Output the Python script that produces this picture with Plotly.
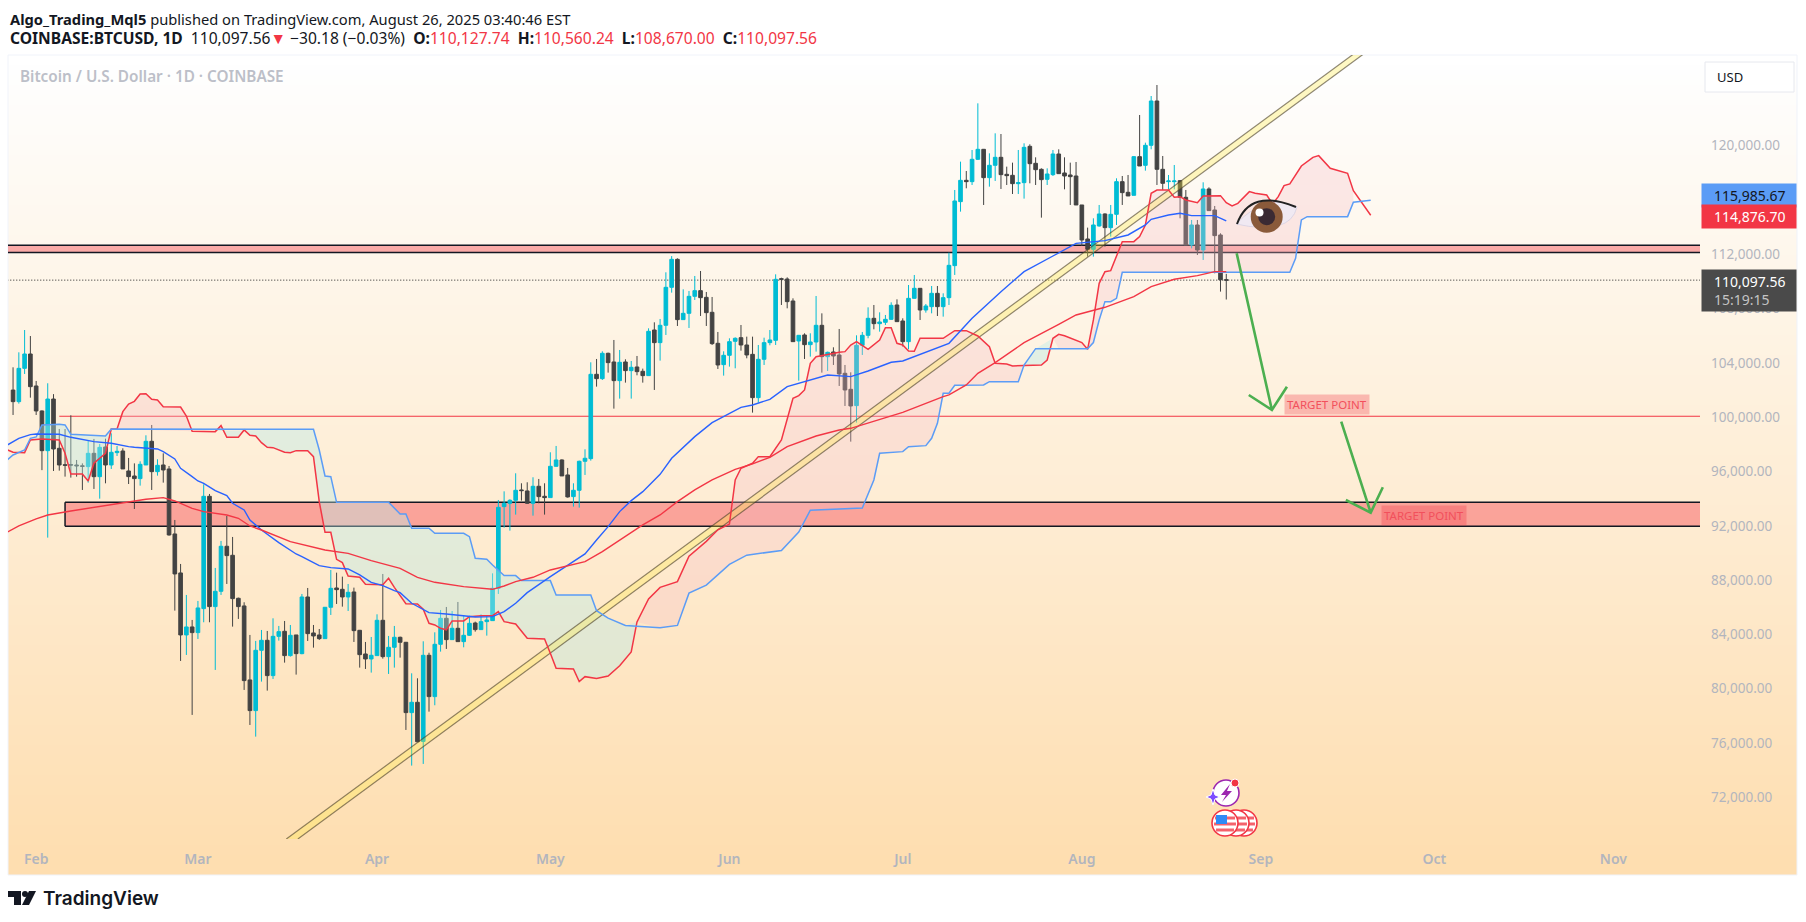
import math

import pandas as pd
import plotly.graph_objects as go

# Daily candles, Jan 28 -> Aug 26 2025
opens = [102000, 101146, 103600, 104657,
         102300, 100460, 97536, 101340, 97709, 96500, 96500, 96480, 96420, 96360, 97340, 95620, 97808, 96482,
         97390, 97510, 96040, 95670, 95476, 96482, 98225, 95990, 96482, 96187, 91400, 88528, 83961, 84550,
         84133, 85900, 94174, 86048, 87177, 90492, 89829, 86661, 86097, 80647, 78388, 82830, 83567, 80965, 83860,
         84230, 82438, 83960, 82585, 86758, 84107, 83960, 83690, 86000, 87421, 87323, 86758, 87127, 84303, 82560, 82192,
         82438, 85040, 82364, 83051, 83788, 83420, 78240, 79000, 76118, 82462, 79418, 83272, 85187, 83616, 84450,
         83469, 83935, 84843, 84353, 84942, 85015, 87397, 93414, 93660, 93880, 94642, 94568, 93660, 94912, 94176,
         94077, 96384, 96851, 95747, 94151, 94617, 96753, 96949, 103160, 102841, 104707, 104069, 102694, 104069, 103430,
         103700, 103382, 103062, 106425, 105493, 106770, 109568, 111630, 107187, 107653, 108905, 109323, 108830, 107727,
         105444, 103873,
         104560, 105590, 105860, 105320, 104630, 101441, 104265, 105493, 105664, 110206, 110181, 108561, 105615, 106057,
         105345, 105541, 106769, 104461, 104805, 104584, 103234, 102055, 100852, 105296, 106032, 107284, 106892, 106990,
         107210, 108266,
         107088, 105566, 108757, 109494, 107898, 108144, 109126, 108144, 108806, 111165, 115879, 117450, 117352, 118997,
         119733, 117646, 118555, 119144, 117892, 117818, 117204, 117278, 119954, 118702, 118260, 117523, 117867, 119389,
         117990, 117843, 117769,
         115633, 113129, 112368, 114087, 114970, 113964, 114945, 117352, 116566, 116345, 119193, 118554, 120028, 123293,
         118260, 117352, 117352, 117425, 116198, 112687, 114160, 112319, 116812, 115265, 113424, 110127.74]
highs = [103675, 104780, 106424, 105980,
         102670, 100500, 102500, 101700, 99133, 99133, 100140, 96850, 96600, 98250, 98400, 98030, 98420, 98814,
         97880, 97710, 97000, 96600, 96752, 98667, 99428, 96900, 97340, 96408, 92431, 89190, 86908, 85066,
         86466, 95058, 94346, 88896, 90885, 92726, 91179, 86711, 86367, 83961, 83520, 84328, 84254, 85187, 84623,
         84990, 84696, 83960, 86980, 87421, 84696, 84400, 86000, 88747, 88550, 88256, 87716, 87446, 84328, 83444, 83812,
         85482, 88452, 83886, 84623, 83837, 83444, 81136, 80768, 83493, 82650, 84156, 85800, 86022, 85727,
         86390, 85408, 85383, 84941, 85482, 85360, 88500, 93903, 94540, 93955, 95869, 95132, 95206, 95574, 95451,
         95132, 97416, 97882, 96900, 96262, 95132, 96802, 97636, 104044, 104290, 104854, 104756, 105689, 104952, 104265,
         104143, 104510, 103578, 106548, 106990, 107236, 110673, 111870, 111703, 109420, 109298, 110403, 110771, 109225,
         108856, 106278, 104854,
         105812, 105885, 106793, 105934, 105934, 105320, 105860, 106425, 110525, 110279, 110304, 108757, 106057, 106180,
         106180, 108929, 107652, 104830, 105149, 106499, 103848, 103307, 106032, 106278, 108094, 108266, 107726, 107530,
         108463, 108683,
         107284, 109739, 110476, 109494, 108340, 109666, 109666, 109126, 112120, 116738, 118825, 118137, 119684, 123121,
         119758, 119438, 120912, 120862, 118457, 118751, 119684, 120175, 120101, 119144, 118333, 118333, 119684, 119733,
         119144, 118751, 118800,
         115633, 113964, 114651, 115633, 115020, 115633, 117598, 117769, 117843, 119242, 122262, 120224, 123661, 124471,
         119242, 117843, 118579, 117474, 116738, 114528, 114528, 117303, 116935, 115560, 113547, 110560.24]
lows = [100164, 101000, 103184, 101440,
        100164, 96100, 91130, 96040, 96064, 95622, 95550, 95620, 94640, 95180, 94715, 94000, 95130, 96188,
        97145, 96190, 95080, 93240, 94960, 96482, 94640, 95696, 95180, 91277, 85753, 82046, 82488, 78070,
        83667, 84894, 84894, 81384, 86908, 87717, 84575, 85140, 79910, 77330, 76470, 80523, 79860, 80719, 83542,
        81922, 82364, 81040, 82536, 83518, 83027, 83591, 83690, 85433, 86243, 86046, 85727, 83444, 81554, 81455, 81186,
        82438, 82217, 81088, 81554, 82290, 76963, 74337, 76094, 74460, 78312, 78780, 82732, 82930, 83640,
        83469, 83051, 83886, 84205, 84328, 83910, 85015, 86980, 91865, 91646, 92825, 93856, 93610, 92750, 93660,
        92825, 94077, 96360, 95673, 94077, 93414, 93340, 95746, 96802, 102252, 102743, 103283, 100632, 101368, 102547,
        101368, 103087, 102547, 103038, 102007, 104167, 106057, 109175, 106720, 107162, 106573, 108635, 107457, 106720,
        105321, 103553, 103062,
        103725, 103602, 104903, 104340, 100337, 101073, 103847, 105296, 105320, 108266, 108021, 105566, 102693, 104290,
        104462, 104830, 103283, 103405, 103848, 102300, 100828, 98201, 99600, 104584, 105812, 106474, 106302, 106793,
        107161, 107039,
        105198, 105001, 108733, 107161, 107702, 107652, 107456, 107407, 108266, 110478, 115142, 116861, 117106, 118948,
        115633, 116983, 117401, 116812, 117106, 116443, 116443, 116100, 117229, 117106, 114700, 117106, 117769, 117966,
        116787, 115633, 115633,
        112614, 111828, 111828, 114037, 112565, 113300, 114160, 115633, 116296, 116345, 118505, 118161, 119733, 117106,
        116738, 116787, 116787, 114651, 112687, 112442, 111950, 111583, 115216, 110600, 109251, 108670]
closes = [101146, 103600, 104657, 102250,
          100460, 97536, 101340, 97660, 96482, 96460, 96480, 96420, 96380, 97340, 95620, 97782, 96482, 97415,
          97488, 96190, 95622, 95476, 96530, 98225, 95990, 96457, 96114, 91326, 88454, 83961, 84550, 84133,
          85950, 94174, 86048, 87177, 90492, 89804, 86637, 86048, 80598, 78388, 82830, 83567, 80965, 83860, 84205,
          82438, 83935, 82585, 86758, 84058, 83886, 83690, 86000, 87397, 87298, 86758, 87102, 84279, 82511, 82192, 82462,
          85040, 82364, 83051, 83788, 83420, 78240, 79000, 76094, 82462, 79418, 83272, 85187, 83616, 84450,
          83469, 83935, 84819, 84353, 84942, 85065, 87397, 93362, 93660, 93880, 94617, 94593, 93660, 94912, 94151, 94077,
          96384, 96851, 95673, 94126, 94617, 96753, 96974, 103160, 102841, 104707, 104020, 102694, 104044, 103430,
          103676, 103357, 103062, 106327, 105493, 106770, 109568, 111630, 107187, 107653, 108905, 109323, 108806, 107702,
          105419, 103848, 104560,
          105566, 105812, 105320, 104584, 101441, 104265, 105493, 105689, 110157, 110157, 108512, 105566, 106032, 105345,
          105541, 106769, 104461, 104780, 104510, 103185, 102006, 100828, 105296, 106032, 107284, 106892, 107014, 107210,
          108242, 107039,
          105566, 108757, 109494, 107898, 108193, 109126, 108144, 108806, 111188, 115928, 117450, 117352, 118997, 119733,
          117646, 118555, 119144, 117867, 117794, 117204, 117278, 119880, 118677, 118235, 117499, 117916, 119389, 117941,
          117769, 117720, 115633,
          113055, 112368, 114160, 114970, 113964, 114945, 117352, 116542, 116296, 119193, 118505, 120028, 123293, 118260,
          117229, 117401, 117401, 116198, 112687, 114160, 112319, 116812, 115216, 113375, 110127.74, 110097.56]

# Indicator lines: day number counted from Jan 28, and price
span_a_days = [-2, 0, 2, 3, 5, 8, 9, 10, 12, 13, 14, 16, 17, 18, 19, 20, 21, 22, 23, 24, 25, 26, 29, 30, 31, 35, 36, 37,
               39, 40, 41, 42, 43, 44, 45, 47, 48, 49, 51, 52, 53, 54, 55, 56, 57, 58, 60, 61, 64, 65, 66, 68, 70, 71,
               72, 73, 74, 75, 76, 78, 79, 81, 83, 84, 85, 87, 89, 92, 93, 94, 97, 98, 99, 101, 103, 105, 107, 108, 110,
               112, 115, 117, 120, 122, 124, 125, 126, 128, 129, 131, 133, 135, 136, 137, 138, 139, 143, 144, 145, 146,
               148, 150, 151, 152, 153, 154, 155, 156, 157, 161, 163, 165, 167, 169, 170, 172, 173, 178, 179, 180, 181,
               182, 185, 186, 187, 188, 189, 190, 192, 194, 195, 196, 197, 198, 200, 201, 202, 203, 205, 206, 209, 210,
               211, 212, 214, 215, 217, 218, 219, 220, 221, 223, 225, 226, 228, 231, 232, 235]
span_a = [97783, 97415, 97390, 98323, 98397, 98323, 97340, 95819, 95819, 95303, 96605, 97340, 99133, 99133, 100410, 100974,
          101171, 101711, 101735, 101318, 101269, 100778, 100754, 100091, 98961, 98937, 99378, 98519, 98519, 99060, 98667,
          98618, 98127, 97783, 97758, 97415, 97390, 97537, 97537, 97095, 93781, 91521, 91521, 89533, 89287, 88305, 88207,
          87691, 87667, 88133, 87470, 86267, 86243, 85850, 84819, 84696, 84450, 84328, 84991, 84991, 85310, 85384, 85384,
          85678, 84940, 84768, 83713, 83664, 82608, 81503, 81454, 80521, 80890, 80761, 80930, 81694, 82713, 84917, 86615,
          87464, 87888, 89754, 90857, 91706, 92130, 95378, 96237, 96605, 97096, 97096, 98323, 101392, 101589, 102006,
          103970, 104461, 104780, 104829, 105320, 105566, 105001, 105689, 106597, 106597, 105443, 105320, 104878, 104854,
          105811, 105811, 106376, 106376, 105983, 105198, 103970, 103921, 103774, 103847, 104215, 105811, 106106, 106000,
          105500, 105000, 107163, 109864, 110723, 110797, 112933, 112933, 113301, 114160, 116492, 116738, 116738, 116198,
          116247, 116001, 115805, 116296, 116321, 115805, 115560, 115756, 116615, 116492, 116370, 115707, 116247, 117057,
          117180, 118506, 119144, 119267, 118334, 117966, 116689, 114876.70]
span_b_days = [-2, 0, 2, 3, 4, 5, 8, 9, 10, 16, 17, 52, 53, 54, 55, 56, 65, 67, 68, 69, 72, 73, 78, 79, 80, 82, 83, 85, 87,
               88, 93, 94, 100, 101, 103, 106, 112, 115, 117, 120, 124, 127, 133, 136, 138, 147, 149, 150, 154, 155, 158,
               159, 160, 161, 162, 163, 168, 169, 174, 175, 177, 181, 186, 187, 188, 189, 190, 191, 192, 221, 222, 223,
               224, 231, 232, 235]
span_b = [96500, 97218, 97587, 98446, 98544, 99428, 99477, 99428, 98740, 98618, 99133, 99109, 97586, 95672, 95622, 93732,
          93732, 92873, 92873, 91817, 91817, 91449, 91449, 91204, 89608, 89534, 89117, 88331, 88331, 87963, 87963, 86907,
          86907, 85750, 85200, 84664, 84494, 84663, 87040, 87634, 89160, 89839, 90178, 91536, 93148, 93317, 95378, 97341,
          97464, 97832, 97906, 98446, 99551, 101761, 101761, 102350, 102374, 102620, 102620, 103847, 105050, 105050, 105050,
          105500, 107163, 108514, 108514, 108759, 110674, 110674, 111705, 114529, 114774, 114774, 115830, 115985.67]
ma_fast_days = [-2, 1, 3, 4, 8, 10, 14, 17, 20, 21, 25, 26, 28, 29, 31, 32, 33, 35, 37, 38, 40, 41, 43, 46, 49, 50, 53, 55,
                58, 60, 62, 64, 66, 67, 69, 72, 75, 78, 80, 83, 85, 87, 89, 93, 99, 101, 103, 105, 107, 109, 112, 114, 118,
                121, 126, 128, 131, 134, 139, 141, 145, 148, 152, 154, 162, 166, 171, 175, 180, 184, 189, 193, 196, 197,
                200, 202, 204, 208, 210]
ma_fast = [97700, 98446, 98716, 98765, 98740, 98519, 98200, 98077, 97832, 97783, 97660, 97464, 96924, 96236, 95622, 95303,
           95132, 94591, 94223, 93659, 93168, 92430, 91693, 90760, 89925, 89729, 89066, 88919, 88821, 88379, 87839, 87593,
           87225, 87077, 86292, 85605, 85506, 85359, 85285, 85310, 85678, 86292, 87077, 88257, 89927, 90959, 91941, 93046,
           93856, 94519, 95795, 96974, 98569, 99600, 100729, 100901, 101319, 102251, 102865, 103111, 102988, 103405, 104044,
           104142, 105443, 107284, 109248, 110721, 111875, 112810, 113006, 113424, 114160, 114578, 114897, 115020, 114848,
           114848, 114455]
ma_slow_days = [-2, 1, 4, 6, 10, 13, 20, 23, 26, 28, 31, 33, 37, 39, 41, 43, 48, 54, 58, 62, 67, 70, 73, 78, 83, 85, 87, 90,
                93, 99, 102, 105, 109, 112, 115, 118, 121, 125, 128, 131, 134, 139, 143, 145, 154, 161, 162, 165, 167, 170,
                175, 181, 184, 189, 194, 197, 201, 205, 208, 210]
ma_slow = [91300, 91989, 92505, 92799, 93094, 93290, 93708, 93953, 94076, 93830, 93290, 93045, 92799, 92554, 91988, 91693,
           90834, 90220, 89974, 89434, 88870, 88207, 87839, 87519, 87323, 87569, 87888, 88207, 88749, 89362, 90098, 90959,
           92064, 92800, 93782, 94642, 95378, 96163, 96556, 97047, 97833, 98618, 99060, 99183, 100361, 101515, 101638,
           102374, 103233, 104019, 105492, 106842, 107532, 108096, 108882, 109618, 110159, 110429, 110724, 110724]

# Where the cloud changes colour (day numbers)
cloud_flips = [1, 17, 31, 108, 175, 180, 233, 235]
GREEN_FILL = "rgba(186,234,232,0.4)"
PINK_FILL = "rgba(245,188,198,0.3)"
cloud_colors = [GREEN_FILL, PINK_FILL, GREEN_FILL, PINK_FILL, GREEN_FILL, PINK_FILL, GREEN_FILL]

# Drawings
trend_upper_days = [47.3, 228.3, 248.3]
trend_lower_days = [49.3, 230.0, 250.0]
trend_prices = [68930, 125576, 131844]
arrow1_days = [211.8, 217.9, 213.9, 217.9, 220.5]
arrow1_prices = [112074, 100532, 101637, 100532, 102248]
arrow2_days = [229.9, 235.0, 230.7, 235.0, 237.1]
arrow2_prices = [99670, 92967, 93902, 92967, 94838]
target_days = [227.4, 244.3]
target_prices = [100945, 92767]

# 116,000 sits under the blue price tag in the picture
price_ticks = [72000, 76000, 80000, 84000, 88000, 92000, 96000, 100000, 104000, 108000, 112000, 120000]
month_ticks = ["2025-02-01", "2025-03-01", "2025-04-01", "2025-05-01", "2025-06-01", "2025-07-01", "2025-08-01",
               "2025-09-01", "2025-10-01", "2025-11-01"]
month_labels = ["Feb", "Mar", "Apr", "May", "Jun", "Jul", "Aug", "Sep", "Oct", "Nov"]

FONT = "Noto Sans"
GREY = "#b2b5be"
DARK = "#131722"
LEFT, RIGHT, TOP, BOTTOM = 8, 1700, 55, 839
X_END = "2025-11-16"
start = pd.Timestamp("2025-01-28")


def day(n):
    return [start + pd.Timedelta(days=float(v)) for v in n]


def px_x(x):
    return (x - LEFT) / (RIGHT - LEFT)


def px_y(y):
    return (BOTTOM - y) / (BOTTOM - TOP)


def pt(x, y):
    return "%.5f,%.5f" % (px_x(x), px_y(y))


fig = go.Figure()

# Background gradient, also runs behind the price and time scales
shapes = []
for i in range(82):
    t = i / 81
    c = (255 - t, 255 - 33 * t, 255 - 79 * t)
    shapes.append(dict(type="rect", xref="paper", yref="paper", layer="below", line_width=0,
                       x0=px_x(8), x1=px_x(1797), y0=px_y(55 + i * 10), y1=px_y(65 + i * 10),
                       fillcolor="rgb(%d,%d,%d)" % c))
shapes.append(dict(type="rect", xref="paper", yref="paper", layer="below", x0=px_x(8), x1=px_x(1797), y0=px_y(875),
                   y1=px_y(55), line=dict(color="#f0f3fa", width=1)))

# Zones: fill and only the edges the picture has
for y0, y1, x0 in [(112133, 112663, day([-1])[0]), (91965, 93733, day([9])[0])]:
    shapes.append(dict(type="rect", layer="below", x0=x0, x1=X_END, y0=y0, y1=y1,
                       fillcolor="rgba(247,75,85,0.45)", line_width=0))
    for level in (y0, y1):
        shapes.append(dict(type="line", layer="below", x0=x0, x1=X_END, y0=level, y1=level,
                           line=dict(color=DARK, width=1.5)))
shapes.append(dict(type="line", layer="below", x0=day([9])[0], x1=day([9])[0], y0=91965, y1=93733,
                   line=dict(color=DARK, width=1.5)))
shapes.append(dict(type="line", layer="below", x0=day([8])[0], x1=X_END, y0=100070, y1=100070,
                   line=dict(color="#f23645", width=1.2)))
shapes.append(dict(type="line", layer="below", x0=day([-1])[0], x1=X_END, y0=closes[-1], y1=closes[-1],
                   line=dict(color="#222222", width=1, dash="1px,2px")))

# Eye
shapes.append(dict(type="path", xref="paper", yref="paper",
                   path="M%s Q%s %s Q%s %s Z" % (pt(1236, 224), pt(1267, 192), pt(1297, 207),
                                                 pt(1290, 236), pt(1236, 224)),
                   fillcolor="rgba(238,234,245,0.8)", line=dict(color="rgba(210,205,225,0.7)", width=1)))
for cx, cy, r, col in [(1266.7, 216.7, 16, "#8a5a3a"), (1266.7, 216.7, 8.5, "#3a2a33"), (1259.5, 212.5, 4, "white")]:
    shapes.append(dict(type="circle", xref="paper", yref="paper", x0=px_x(cx - r), x1=px_x(cx + r),
                       y0=px_y(cy + r), y1=px_y(cy - r), fillcolor=col, line_width=0))
shapes.append(dict(type="path", xref="paper", yref="paper",
                   path="M%s Q%s %s" % (pt(1237, 224), pt(1250, 188), pt(1296, 207)),
                   line=dict(color="#222222", width=2)))

# Cloud fill
for a, b, color in zip(cloud_flips[:-1], cloud_flips[1:], cloud_colors):
    top = [(d, v) for d, v in zip(span_a_days, span_a) if a <= d <= b]
    bot = [(d, v) for d, v in zip(span_b_days, span_b) if a <= d <= b]
    pts = top + bot[::-1]
    fig.add_trace(go.Scatter(x=day([p[0] for p in pts]), y=[p[1] for p in pts], mode="lines", fill="toself",
                             fillcolor=color, line_width=0, hoverinfo="skip"))

# Trend channel
fig.add_trace(go.Scatter(x=day(trend_upper_days + trend_lower_days[::-1]), y=trend_prices + trend_prices[::-1],
                         mode="lines", fill="toself", fillcolor="rgba(255,235,59,0.3)",
                         line=dict(color="rgba(70,60,40,0.6)", width=1.2), hoverinfo="skip"))

# Indicator lines
fig.add_trace(go.Scatter(x=day(span_a_days), y=span_a, mode="lines", line=dict(color="#f23645", width=1.5)))
fig.add_trace(go.Scatter(x=day(span_b_days), y=span_b, mode="lines", line=dict(color="#5b9cf6", width=1.5)))
fig.add_trace(go.Scatter(x=day(ma_fast_days), y=ma_fast, mode="lines", line=dict(color="#2962ff", width=1.4)))
fig.add_trace(go.Scatter(x=day(ma_slow_days), y=ma_slow, mode="lines", line=dict(color="#f23645", width=1.4)))

# Candles
fig.add_trace(go.Candlestick(x=pd.date_range(start, periods=len(opens)), open=opens, high=highs, low=lows, close=closes,
                             whiskerwidth=0,
                             increasing=dict(line=dict(color="#00bcd4", width=1), fillcolor="#00bcd4"),
                             decreasing=dict(line=dict(color="#434343", width=1), fillcolor="#434343")))

# Arrows
for d, p in [(arrow1_days, arrow1_prices), (arrow2_days, arrow2_prices)]:
    fig.add_trace(go.Scatter(x=day(d), y=p, mode="lines", line=dict(color="#4caf50", width=2.6)))

# Event icons near the bottom
for cx in [1244, 1236, 1225]:
    r = 13
    shapes.append(dict(type="circle", xref="paper", yref="paper", x0=px_x(cx - r), x1=px_x(cx + r), y0=px_y(823 + r),
                       y1=px_y(823 - r), fillcolor="white", line=dict(color="#f23645", width=1.6)))
    for dy in [-5, 1, 7]:
        w = math.sqrt(r * r - dy * dy) - 2
        shapes.append(dict(type="rect", xref="paper", yref="paper", x0=px_x(cx - w), x1=px_x(cx + w), y0=px_y(823 + dy + 1.5),
                           y1=px_y(823 + dy - 1.5), fillcolor="#f4626c", line_width=0))
shapes.append(dict(type="rect", xref="paper", yref="paper", x0=px_x(1216), x1=px_x(1227), y0=px_y(824), y1=px_y(815),
                   fillcolor="#2f8af5", line_width=0))
shapes.append(dict(type="circle", xref="paper", yref="paper", x0=px_x(1213), x1=px_x(1239), y0=px_y(806), y1=px_y(780),
                   fillcolor="white", line=dict(color="#9c27b0", width=1.6)))
shapes.append(dict(type="path", xref="paper", yref="paper", fillcolor="#9c27b0", line_width=0,
                   path="M%s L%s L%s L%s L%s L%s Z" % (pt(1230, 784), pt(1221, 795), pt(1226, 795),
                                                       pt(1222, 802), pt(1232, 791), pt(1227, 791))))
shapes.append(dict(type="path", xref="paper", yref="paper", fillcolor="#7c4dff", line=dict(color="white", width=1),
                   path="M%s L%s L%s L%s L%s L%s L%s L%s Z" % (pt(1213, 789), pt(1215, 795), pt(1220, 797), pt(1215, 799),
                                                               pt(1213, 805), pt(1211, 799), pt(1206, 797), pt(1211, 795))))
shapes.append(dict(type="circle", xref="paper", yref="paper", x0=px_x(1231), x1=px_x(1239), y0=px_y(787), y1=px_y(779),
                   fillcolor="#f23645", line=dict(color="white", width=1)))

# USD box
shapes.append(dict(type="rect", xref="paper", yref="paper", x0=px_x(1705), x1=px_x(1794), y0=px_y(92), y1=px_y(62),
                   fillcolor="white", line=dict(color="#e6e8ee", width=1)))

# TradingView logo mark
shapes.append(dict(type="path", xref="paper", yref="paper", fillcolor=DARK, line_width=0,
                   path="M%s L%s L%s L%s L%s L%s Z" % (pt(8, 891), pt(21, 891), pt(21, 905), pt(14, 905), pt(14, 897), pt(8, 897))))
shapes.append(dict(type="circle", xref="paper", yref="paper", x0=px_x(22), x1=px_x(28), y0=px_y(897), y1=px_y(891),
                   fillcolor=DARK, line_width=0))
shapes.append(dict(type="path", xref="paper", yref="paper", fillcolor=DARK, line_width=0,
                   path="M%s L%s L%s L%s Z" % (pt(29, 891), pt(36, 891), pt(29, 905), pt(22, 905))))

red = "<span style='color:#f23645'>%s</span>"
gap = "&nbsp;&nbsp;"
header_1 = "<b>Algo_Trading_Mql5</b> published on TradingView.com, August 26, 2025 03:40:46 EST"
header_2 = ("<b>COINBASE:BTCUSD, 1D</b>" + gap + "110,097.56" + red % "▼" + " −30.18 (−0.03%)" + gap + "<b>O:</b>"
            + red % "110,127.74" + gap + "<b>H:</b>" + red % "110,560.24" + gap + "<b>L:</b>" + red % "108,670.00"
            + gap + "<b>C:</b>" + red % "110,097.56")


def label(x, y, text, size, color=DARK, weight=None, family=FONT, **kw):
    return dict(xref="paper", yref="paper", x=px_x(x), y=px_y(y), text=text, showarrow=False, xanchor="left",
                yanchor="middle", font=dict(family=family, size=size, color=color, weight=weight), **kw)


pad = "&nbsp;&nbsp;&nbsp;"
annotations = [
    label(8, 19, header_1, 14.7),
    label(8, 38, header_2, 15.6),
    label(18, 76, "Bitcoin / U.S. Dollar · 1D · COINBASE", 15.3, "#bcbfc8", weight=600),
    label(1715, 77, "USD", 13, "#131722"),
    label(1701, 195.5, pad + "115,985.67", 14, DARK, width=92, height=21, bgcolor="#5b9cf6", align="left"),
    label(1701, 216.5, pad + "114,876.70", 14, "white", width=92, height=21, bgcolor="#f23645", align="left"),
    label(1701, 290.5, pad + "110,097.56<br>" + pad + "<span style='color:#c4c4c4'>15:19:15</span>", 14, "white",
          width=92, height=39, bgcolor="#4a4a4a", align="left"),
    label(41, 898, "TradingView", 19, DARK, weight=600, family="Inter"),
]
for d, p in zip(day(target_days), target_prices):
    annotations.append(dict(x=d, y=p, text="TARGET POINT", showarrow=False, bgcolor="rgba(242,54,69,0.3)",
                            font=dict(family=FONT, size=11.5, color="#f2505c"), borderpad=2))

fig.update_layout(
    width=1806, height=922, margin=dict(l=LEFT, r=1806 - RIGHT, t=TOP, b=922 - BOTTOM),
    paper_bgcolor="white", plot_bgcolor="rgba(0,0,0,0)", showlegend=False, shapes=shapes, annotations=annotations,
    boxgap=0.1,
    xaxis=dict(type="date", range=[pd.Timestamp("2025-01-27 03:00"), pd.Timestamp(X_END)], rangeslider_visible=False,
               showgrid=False, zeroline=False, showline=False, ticks="", tickvals=month_ticks, ticktext=month_labels,
               ticklabelstandoff=10, tickfont=dict(family=FONT, size=14, color=GREY, weight=600)),
    yaxis=dict(side="right", range=[68930, 126681], showgrid=False, zeroline=False, showline=False, ticks="",
               tickvals=price_ticks, tickformat=",.2f", ticklabelstandoff=10,
               tickfont=dict(family=FONT, size=13.5, color=GREY)),
)

fig.write_html("out.html", config={"displayModeBar": False}, post_script="document.body.style.margin='0';")
